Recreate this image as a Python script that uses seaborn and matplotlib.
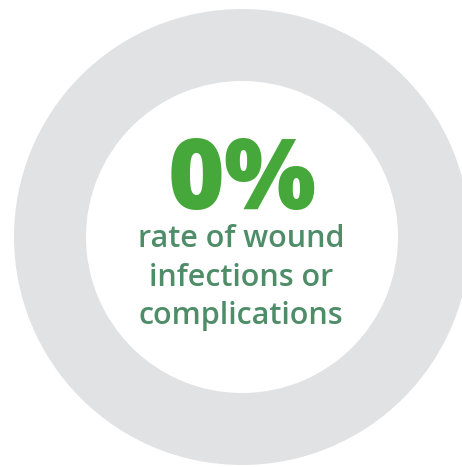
import matplotlib
matplotlib.use("Agg")
import matplotlib.pyplot as plt
import seaborn as sns

# data
segments = ["wound infections or complications", "none"]
values = [0, 100]
headline = "0%"
caption_lines = ["rate of wound", "infections or", "complications"]

sns.set_theme(style="white")
plt.rcParams['font.family'] = ['Open Sans', 'DejaVu Sans']

green = "#46a83a"
text_green = "#4f8d68"
gray = "#e1e2e4"

fig = plt.figure(figsize=(4.62, 4.67), dpi=100)
ax = fig.add_axes([0, 0, 1, 1])
ax.pie(values, colors=[green, gray], center=(242, 237), radius=228,
       startangle=90, counterclock=False,
       wedgeprops=dict(width=228 - 156, linewidth=0))
ax.set_xlim(0, 462)
ax.set_ylim(467, 0)
ax.set_aspect('equal')
ax.axis('off')

ax.text(242, 209, headline, ha='center', va='baseline', fontsize=70,
        fontweight=800, color=green)
baselines = [247, 286, 324]
for line, yb in zip(caption_lines, baselines):
    ax.text(241, yb, line, ha='center', va='baseline', fontsize=22,
            fontweight=600, color=text_green)

fig.savefig("out.png", dpi=100)
